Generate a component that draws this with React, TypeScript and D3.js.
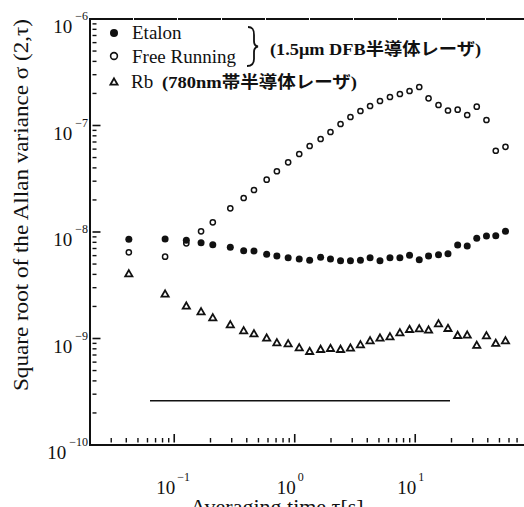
import React from "react";
import * as d3 from "d3";

// averaging time tau [s], shared by the three series
const tau = [
  0.042, 0.084, 0.126, 0.167, 0.209, 0.292, 0.377, 0.459, 0.585, 0.711, 0.882,
  1.09, 1.33, 1.64, 1.98, 2.4, 2.9, 3.51, 4.22, 5.1, 6.17, 7.46, 8.97, 10.8,
  12.9, 15.6, 18.7, 22.5, 27.0, 32.4, 39.0, 46.6, 56.1,
];

// Etalon (filled circles)
const etalon = [
  8.54e-9, 8.6e-9, 8.36e-9, 7.93e-9, 7.6e-9, 7.18e-9, 6.67e-9, 6.63e-9, 6.17e-9,
  5.95e-9, 5.74e-9, 5.58e-9, 5.42e-9, 5.79e-9, 5.58e-9, 5.37e-9, 5.37e-9,
  5.42e-9, 5.74e-9, 5.37e-9, 5.74e-9, 5.74e-9, 6.04e-9, 5.49e-9, 5.95e-9,
  6.12e-9, 6.25e-9, 7.55e-9, 7.39e-9, 8.73e-9, 9.17e-9, 9.23e-9, 1.015e-8,
];

// Free Running (open circles)
const freeRunning = [
  6.45e-9, 5.86e-9, 7.83e-9, 1.015e-8, 1.233e-8, 1.669e-8, 2.085e-8, 2.48e-8,
  3.1e-8, 3.72e-8, 4.51e-8, 5.4e-8, 6.42e-8, 7.47e-8, 8.69e-8, 1.033e-7,
  1.202e-7, 1.368e-7, 1.524e-7, 1.698e-7, 1.851e-7, 1.976e-7, 2.109e-7,
  2.299e-7, 1.8e-7, 1.558e-7, 1.383e-7, 1.408e-7, 1.255e-7, 1.501e-7, 1.126e-7,
  5.79e-8, 6.31e-8,
];

// Rb, 780nm band (triangles)
const rb = [
  4.06e-9, 2.62e-9, 2.02e-9, 1.785e-9, 1.568e-9, 1.348e-9, 1.184e-9, 1.11e-9,
  1.011e-9, 9.13e-10, 8.94e-10, 8.2e-10, 7.58e-10, 7.92e-10, 8.09e-10, 7.92e-10,
  8.14e-10, 8.75e-10, 9.54e-10, 1.011e-9, 1.04e-9, 1.134e-9, 1.22e-9, 1.236e-9,
  1.202e-9, 1.377e-9, 1.247e-9, 1.072e-9, 1.079e-9, 8.64e-10, 1.062e-9,
  9.02e-10, 9.54e-10,
];

const xMajor = [0.1, 1, 10];
const xMajorExp = ["−1", "0", "1"];
const yMajor = [1e-6, 1e-7, 1e-8, 1e-9, 1e-10];
const yMajorExp = ["−6", "−7", "−8", "−9", "−10"];

const INK = "#111";
const serif = "'Liberation Serif', 'Noto Sans CJK JP', serif";

const x = d3.scaleLog().domain([0.02, 100]).range([90, 90 + 3.699 * 120.5]);
const y = d3.scaleLog().domain([1e-10, 1e-6]).range([445, 19]);

const xMinor: number[] = [];
[0.01, 0.1, 1, 10].forEach((d) => {
  for (let k = 2; k <= 9; k++) {
    const v = d * k;
    if (v > 0.02 && x(v) < 524) xMinor.push(v);
  }
});
const yMinor: number[] = [];
[1e-10, 1e-9, 1e-8, 1e-7].forEach((d) => {
  for (let k = 2; k <= 9; k++) yMinor.push(d * k);
});

const tri = (cx: number, cy: number, s = 3.6) =>
  `M${cx},${cy - s}L${cx + s},${cy + s * 0.75}L${cx - s},${cy + s * 0.75}Z`;

// top border split into pieces
const topPieces = d3.range(90, 524, 44);

export default function App() {
  return (
    <svg width={524} height={507} style={{ position: "absolute", left: 0, top: 0 }} fontFamily={serif}>
      <rect x={0} y={0} width={524} height={507} fill="#fff" />

      {/* left and bottom axis lines */}
      <rect x={89} y={18} width={2} height={428} fill={INK} />
      <rect x={89} y={444} width={435} height={2} fill={INK} />
      {/* top border in pieces */}
      {topPieces.map((p, i) => (
        <rect key={"tp" + i} x={p} y={18} width={43} height={2} fill={INK} />
      ))}
      {/* long interior line */}
      <rect x={150} y={400} width={300} height={1.5} fill={INK} />

      {/* ticks, kept just off the axis line */}
      {xMinor.map((v, i) => (
        <rect key={"xm" + i} x={x(v) - 0.7} y={438} width={1.4} height={4.5} fill={INK} />
      ))}
      {xMajor.map((v, i) => (
        <rect key={"xt" + i} x={x(v) - 0.8} y={434} width={1.6} height={8.5} fill={INK} />
      ))}
      {yMinor.map((v, i) => (
        <rect key={"ym" + i} x={92.5} y={y(v) - 0.7} width={4} height={1.4} fill={INK} />
      ))}
      {yMajor.map((v, i) => (
        <rect key={"yt" + i} x={92.5} y={y(v) - 0.8} width={8} height={1.6} fill={INK} />
      ))}

      {/* x tick labels */}
      {xMajor.map((v, i) => (
        <g key={"xl" + i}>
          <text x={x(v) + 1} y={494} textAnchor="end" fontSize={19} fill={INK}>10</text>
          <text x={x(v) + 3} y={481} fontSize={12} fill={INK}>{xMajorExp[i]}</text>
        </g>
      ))}

      {/* y tick labels */}
      {yMajor.map((v, i) => (
        <text key={"yl" + i} x={88} y={y(v) + 14} textAnchor="end" fontSize={19} fill={INK}>
          10
          <tspan dx={3} dy={-13} fontSize={12}>{yMajorExp[i]}</tspan>
        </text>
      ))}

      {/* axis titles */}
      <text x={277} y={514} textAnchor="middle" fontSize={22} fill={INK}>
        Averaging time τ[s]
      </text>
      <text
        transform="translate(28,205) rotate(-90)"
        textAnchor="middle"
        fontSize={21.5}
        textLength={372}
        lengthAdjust="spacingAndGlyphs"
        fill={INK}
      >
        Square root of the Allan variance σ (2,τ)
      </text>

      {/* data */}
      {tau.map((t, i) => (
        <circle key={"fr" + i} cx={x(t)} cy={y(freeRunning[i])} r={2.6} fill="#fff" stroke={INK} strokeWidth={1.5} />
      ))}
      {tau.map((t, i) => (
        <path key={"rb" + i} d={tri(x(t), y(rb[i]))} fill="#fff" stroke={INK} strokeWidth={1.8} />
      ))}
      {tau.map((t, i) => (
        <circle key={"et" + i} cx={x(t)} cy={y(etalon[i])} r={3.5} fill={INK} />
      ))}

      {/* legend */}
      <circle cx={114} cy={33} r={4} fill={INK} />
      <text x={132} y={39} fontSize={19} fill={INK}>Etalon</text>
      <circle cx={114} cy={56} r={3.4} fill="#fff" stroke={INK} strokeWidth={1.6} />
      <text x={132} y={63} fontSize={19} fill={INK}>Free Running</text>
      <path d={tri(114, 82, 3.6)} fill="#fff" stroke={INK} strokeWidth={1.8} />
      <text x={131} y={88} fontSize={19} fill={INK}>Rb</text>
      <text x={162} y={88} fontSize={17} fontWeight="bold" textLength={195} lengthAdjust="spacingAndGlyphs" fill={INK}>
        (780nm帯半導体レーザ)
      </text>
      <path
        d="M248,27 C253,27 254,30 254,35 L254,41 C254,44 255,46 258,46.5 C255,47 254,49 254,52 L254,59 C254,63 252,66 247,66"
        fill="none"
        stroke={INK}
        strokeWidth={1.8}
      />
      <text x={270} y={55} fontSize={17} fontWeight="bold" textLength={211} lengthAdjust="spacingAndGlyphs" fill={INK}>
        (1.5μm DFB半導体レーザ)
      </text>
    </svg>
  );
}
